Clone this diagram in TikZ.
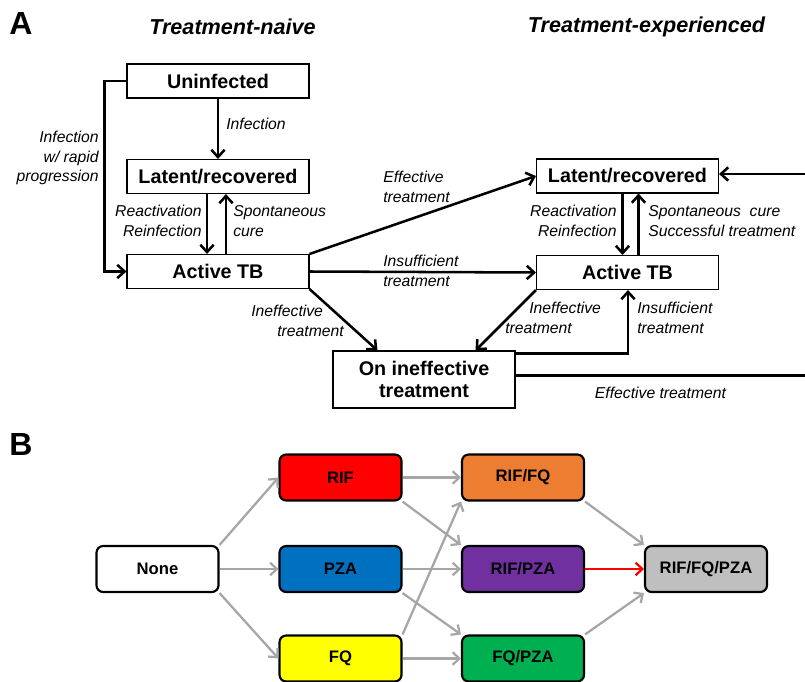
\documentclass[tikz,border=0pt]{standalone}
\usepackage{fontspec}
\setmainfont{Liberation Sans}
\usetikzlibrary{arrows.meta,calc}
\definecolor{arrgray}{RGB}{166,166,166}
\definecolor{cRIF}{RGB}{255,0,0}
\definecolor{cPZA}{RGB}{0,112,192}
\definecolor{cFQ}{RGB}{255,255,0}
\definecolor{cRIFFQ}{RGB}{237,125,49}
\definecolor{cRIFPZA}{RGB}{112,48,160}
\definecolor{cFQPZA}{RGB}{0,176,80}
\definecolor{cALL}{RGB}{191,191,191}
\begin{document}
\begin{tikzpicture}[x=0.75pt,y=-0.75pt,
  panellabel/.style={font=\fontsize{24}{28}\selectfont\bfseries, inner sep=0pt},
  coltitle/.style={font=\fontsize{16.2}{18}\selectfont\bfseries\itshape, inner sep=0pt},
  boxA/.style={draw, line width=0.8pt, minimum width=136.5pt, minimum height=25.5pt, inner sep=0pt,
     font=\fontsize{14.8}{16.5}\selectfont\bfseries, align=center},
  lab/.style={font=\fontsize{11.8}{14.7}\selectfont\itshape, inner sep=0pt},
  arr/.style={line width=1.9pt, -{Straight Barb[length=5.5pt,width=10pt]}},
  boxB/.style={draw, line width=1.6pt, rounded corners=5pt, minimum width=91.5pt, minimum height=34.5pt,
     inner sep=0pt, font=\fontsize{12.5}{15}\selectfont\bfseries},
  garr/.style={line width=1.7pt, draw=arrgray, -{Straight Barb[length=5pt,width=9.5pt]}},
  rarr/.style={line width=1.7pt, draw=red, -{Straight Barb[length=5pt,width=9.5pt]}}
]
\useasboundingbox (0,0) rectangle (805,681);

% ---------------- Panel A ----------------
\node[panellabel] (lblA) at (21,23.5) {A};
\node[coltitle] (tnaive) at (232.5,27) {Treatment-naive};
\node[coltitle] (texp) at (646.5,27) {Treatment-experienced};

\node[boxA] (uninf) at (218,81) {Uninfected};
\node[boxA] (latentL) at (218,176.5) {Latent/recovered};
\node[boxA] (activeL) at (218,271.5) {Active TB};
\node[boxA] (latentR) at (627.5,176) {Latent/recovered};
\node[boxA] (activeR) at (627.5,272.5) {Active TB};
\node[boxA, minimum height=42.75pt] (ineff) at (424,379.5) {On ineffective\\treatment};

% left column
\draw[arr] (uninf.south) -- (latentL.north);
\node[lab, anchor=west] (tinf) at (226,124) {Infection};
\draw[arr] (uninf.west) -- ++(-22,0) |- (activeL.west);
\node[lab, anchor=east, align=right] (trapid) at (99,158) {Infection\\w/ rapid\\progression};
\draw[arr] ($(latentL.south)+(-11,0)$) -- ($(activeL.north)+(-11,0)$);
\draw[arr] ($(activeL.north)+(8,0)$) -- ($(latentL.south)+(8,0)$);
\node[lab, anchor=east, align=right] (treactL) at (202,221) {Reactivation\\Reinfection};
\node[lab, anchor=west, align=left] (tspontL) at (233,221) {Spontaneous\\cure};

% across
\draw[arr] (activeL.north east) -- (latentR.west);
\node[lab, anchor=west, align=left] (teff) at (383,187) {Effective\\treatment};
\draw[arr] (activeL.east) -- (activeR.west);
\node[lab, anchor=west, align=left] (tinsuf) at (383,271) {Insufficient\\treatment};
\draw[arr] (activeL.south east) -- ($(ineff.north west)+(45,0)$);
\node[lab, anchor=west, align=left] (tineffL) at (251,321) {Ineffective\\\hspace*{19.5pt}treatment};
\draw[arr] (activeR.south west) -- ($(ineff.north east)+(-40,0)$);
\node[lab, anchor=west, align=left] (tineffR) at (505,318) {\hspace*{18pt}Ineffective\\treatment};
\draw[arr] ($(ineff.north east)+(0,3)$) -| ($(activeR.south)+(0.5,0)$);
\node[lab, anchor=west, align=left] (tinsufR) at (637,318) {Insufficient\\treatment};

% right column
\draw[arr] ($(latentR.south)+(-5,0)$) -- ($(activeR.north)+(-5,0)$);
\draw[arr] ($(activeR.north)+(11,0)$) -- ($(latentR.south)+(11,0)$);
\node[lab, anchor=east, align=right] (treactR) at (617,221) {Reactivation\\Reinfection};
\node[lab, anchor=west, align=left] (tspontR) at (648,221) {Spontaneous\ \ cure\\Successful treatment};

% effective treatment loop back
\draw[arr] ($(ineff.east)+(0,-4)$) -- (815,375.5) |- ($(latentR.east)+(0,-2)$);
\node[lab] (teff2) at (660.5,393) {Effective treatment};

% ---------------- Panel B ----------------
\node[panellabel] (lblB) at (21,444.5) {B};

\node[boxB, fill=white] (none) at (157.5,569) {None};
\node[boxB, fill=cRIF] (rif) at (340.5,477.5) {RIF};
\node[boxB, fill=cPZA] (pza) at (340.5,569) {PZA};
\node[boxB, fill=cFQ] (fq) at (340.5,658.5) {FQ};
\node[boxB, fill=cRIFFQ] (riffq) at (523,477.5) {RIF/FQ};
\node[boxB, fill=cRIFPZA] (rifpza) at (523,569) {RIF/PZA};
\node[boxB, fill=cFQPZA] (fqpza) at (523,658.5) {FQ/PZA};
\node[boxB, fill=cALL] (all) at (706,569) {RIF/FQ/PZA};

\draw[garr] (none.north east) -- (rif.west);
\draw[garr] (none.east) -- (pza.west);
\draw[garr] (none.south east) -- (fq.west);
\draw[garr] (rif.east) -- (riffq.west);
\draw[garr] (rif.south east) -- (rifpza.north west);
\draw[garr] (pza.east) -- (rifpza.west);
\draw[garr] (pza.south east) -- (fqpza.north west);
\draw[garr] (fq.north east) -- (riffq.south west);
\draw[garr] (fq.east) -- (fqpza.west);
\draw[garr] (riffq.south east) -- (all.north west);
\draw[rarr] (rifpza.east) -- (all.west);
\draw[garr] (fqpza.north east) -- (all.south west);
\end{tikzpicture}
\end{document}
